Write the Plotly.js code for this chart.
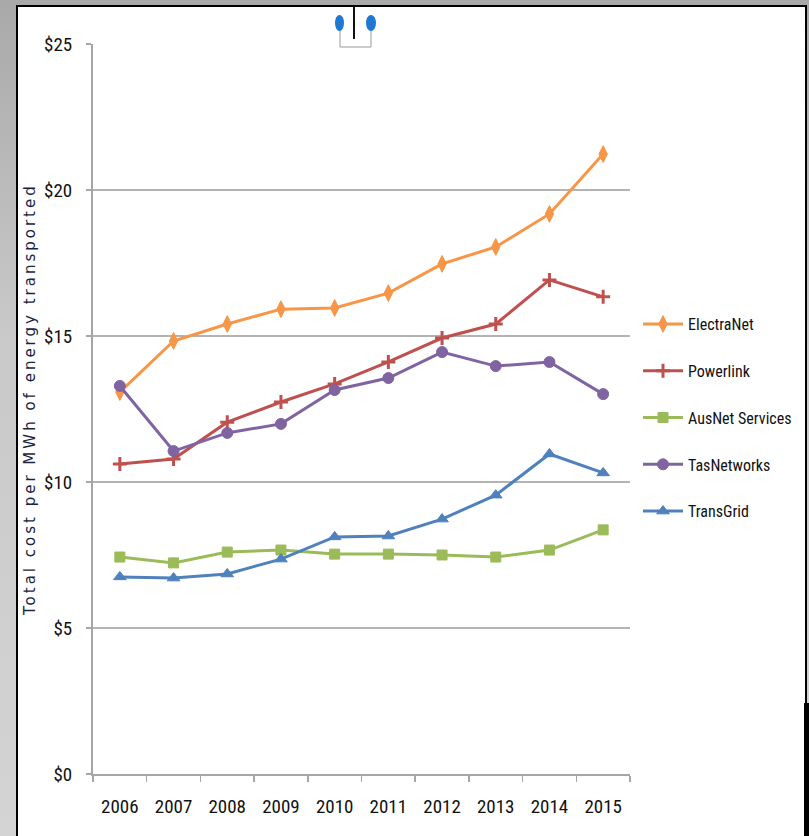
<!DOCTYPE html>
<html>
<head>
<meta charset="utf-8">
<script src="https://cdn.plot.ly/plotly-3.0.1.min.js"></script>
<style>
  html, body { margin: 0; padding: 0; }
  body { width: 809px; height: 836px; background: linear-gradient(#a9a9a9, #c9c9c9 40%, #d4d4d4); position: relative; overflow: hidden; }
  #panel { position: absolute; left: 16px; top: 5px; width: 787px; height: 840px; background: #fff; border: 2px solid #000; }
  #rb { position: absolute; left: 804px; top: 703px; width: 5px; height: 133px; background: #000; }
  #chart { position: absolute; left: 0; top: 0; width: 809px; height: 836px; }
  text.annotation-text { letter-spacing: 3px; }
</style>
</head>
<body>
<div id="panel"></div>
<div id="rb"></div>
<div id="chart"></div>
<script>
const years = ['2006','2007','2008','2009','2010','2011','2012','2013','2014','2015'];
const electraNet   = [13.08, 14.83, 15.41, 15.92, 15.96, 16.47, 17.47, 18.05, 19.18, 21.23];
const powerlink    = [10.62, 10.79, 12.05, 12.74, 13.36, 14.11, 14.93, 15.41, 16.92, 16.34];
const ausNet       = [7.43, 7.23, 7.60, 7.67, 7.53, 7.53, 7.50, 7.43, 7.67, 8.36];
const tasNetworks  = [13.29, 11.06, 11.68, 11.99, 13.15, 13.56, 14.45, 13.97, 14.11, 13.01];
const transGrid    = [6.75, 6.71, 6.85, 7.36, 8.12, 8.15, 8.73, 9.55, 10.96, 10.31];
const yTicks = [0, 5, 10, 15, 20, 25];

const W = 809, H = 836;
const M = {l: 93, r: 179, t: 44, b: 62};
const PW = W - M.l - M.r, PH = H - M.t - M.b;
const px = x => (x - M.l) / PW;
const py = y => (H - M.b - y) / PH;

const NARROW = '"Liberation Sans Narrow", "Arial Narrow", "Roboto Condensed", "Liberation Sans", sans-serif';

function series(name, y, color, marker) {
  return {
    type: 'scatter', mode: 'lines+markers', name: name, x: years, y: y,
    legendgroup: name,
    line: {color: color, width: 3},
    marker: Object.assign({color: color, line: {color: color, width: 1}}, marker)
  };
}

const data = [
  series('ElectraNet', electraNet, '#f79646', {symbol: 'diamond-tall', size: 12}),
  series('Powerlink', powerlink, '#c0504d', {symbol: 'cross-thin', size: 10, line: {color: '#c0504d', width: 3}}),
  series('AusNet Services', ausNet, '#9bbb59', {symbol: 'square', size: 10}),
  series('TasNetworks', tasNetworks, '#8064a2', {symbol: 'circle', size: 11}),
  series('TransGrid', transGrid, '#4f81bd', {symbol: 'triangle-up', size: 11})
];

const layout = {
  width: W, height: H,
  margin: M,
  paper_bgcolor: 'rgba(0,0,0,0)',
  plot_bgcolor: 'rgba(0,0,0,0)',
  showlegend: true,
  legend: {
    xref: 'container', yref: 'container',
    x: 638 / W, y: 1 - 307 / H, xanchor: 'left', yanchor: 'top',
    traceorder: 'grouped', tracegroupgap: 23, itemwidth: 40,
    font: {family: NARROW, size: 16, color: '#111'},
    bgcolor: 'rgba(0,0,0,0)'
  },
  xaxis: {
    type: 'category', range: [-0.5, 9.5],
    showgrid: false, zeroline: false,
    showline: true, linecolor: '#a6a6a6', linewidth: 2,
    ticks: 'outside', tickson: 'boundaries', ticklen: 6, tickcolor: '#a6a6a6', tickwidth: 1.5,
    ticklabelstandoff: 14,
    tickfont: {family: NARROW, size: 19, color: '#111'},
    fixedrange: true
  },
  yaxis: {
    range: [0, 25], tickvals: yTicks, ticktext: yTicks.map(v => '$' + v),
    showgrid: true, gridcolor: '#b3b3b3', gridwidth: 2,
    zeroline: false,
    showline: true, linecolor: '#a6a6a6', linewidth: 2,
    ticks: 'outside', ticklen: 5, tickcolor: '#a6a6a6', tickwidth: 1.5,
    ticklabelstandoff: 10,
    tickfont: {family: NARROW, size: 19, color: '#111'},
    fixedrange: true
  },
  annotations: [{
    xref: 'paper', yref: 'paper', x: px(30), y: py(400),
    text: 'Total cost per MWh of energy transported', textangle: -90,
    showarrow: false, xanchor: 'center', yanchor: 'middle',
    font: {family: '"DejaVu Sans", Verdana, sans-serif', size: 15, color: '#1a2340'}
  }],
  shapes: [
    {type: 'line', xref: 'paper', yref: 'paper', x0: px(340), x1: px(340), y0: py(23), y1: py(47), line: {color: '#9a9a9a', width: 1}, layer: 'above'},
    {type: 'line', xref: 'paper', yref: 'paper', x0: px(371), x1: px(371), y0: py(23), y1: py(47), line: {color: '#9a9a9a', width: 1}, layer: 'above'},
    {type: 'line', xref: 'paper', yref: 'paper', x0: px(340), x1: px(371), y0: py(47), y1: py(47), line: {color: '#9a9a9a', width: 1}, layer: 'above'},
    {type: 'line', xref: 'paper', yref: 'paper', x0: px(354), x1: px(354), y0: py(6), y1: py(39), line: {color: '#111', width: 2}, layer: 'above'},
    {type: 'circle', xref: 'paper', yref: 'paper', x0: px(335), x1: px(344), y0: py(15), y1: py(31), fillcolor: '#1f78d1', line: {width: 0}, layer: 'above'},
    {type: 'circle', xref: 'paper', yref: 'paper', x0: px(366), x1: px(376), y0: py(15), y1: py(31), fillcolor: '#1f78d1', line: {width: 0}, layer: 'above'}
  ]
};

Plotly.newPlot('chart', data, layout, {displayModeBar: false, staticPlot: true});
</script>
</body>
</html>
